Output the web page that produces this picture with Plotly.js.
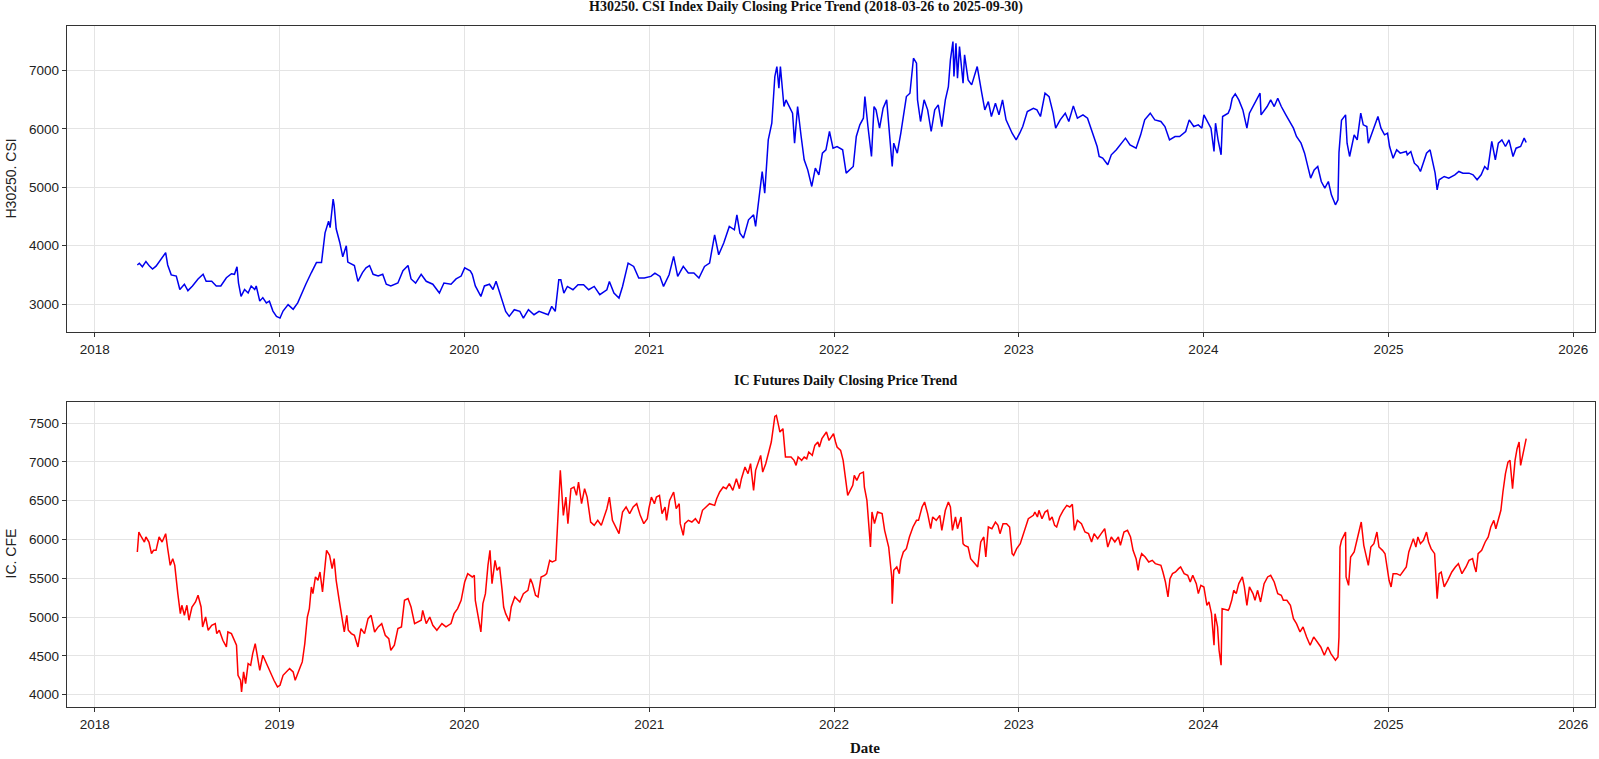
<!DOCTYPE html>
<html>
<head>
<meta charset="utf-8">
<script src="https://cdn.plot.ly/plotly-3.0.1.min.js"></script>
<style>
  html, body { margin: 0; padding: 0; background: #ffffff; }
  #chart { width: 1599px; height: 759px; }
</style>
</head>
<body>
<div id="chart"></div>
<script>
// H30250.CSI index vs IC futures, daily closes

const csiDates = [
  '2018-03-26','2018-03-30','2018-04-05','2018-04-12','2018-04-19','2018-04-25','2018-05-02','2018-05-09',
  '2018-05-15','2018-05-21','2018-05-25','2018-06-01','2018-06-11','2018-06-18','2018-06-27','2018-07-04',
  '2018-07-13','2018-07-24','2018-08-03','2018-08-09','2018-08-20','2018-08-29','2018-09-07','2018-09-18',
  '2018-09-28','2018-10-04','2018-10-09','2018-10-12','2018-10-17','2018-10-24','2018-10-31','2018-11-06',
  '2018-11-13','2018-11-16','2018-11-23','2018-11-29','2018-12-06','2018-12-12','2018-12-19','2018-12-26',
  '2019-01-02','2019-01-08','2019-01-18','2019-01-28','2019-02-06','2019-02-13','2019-02-22','2019-03-05',
  '2019-03-15','2019-03-25','2019-04-01','2019-04-08','2019-04-11','2019-04-17','2019-04-19','2019-04-23',
  '2019-04-30','2019-05-06','2019-05-13','2019-05-16','2019-05-23','2019-05-29','2019-06-05','2019-06-14',
  '2019-06-21','2019-06-28','2019-07-05','2019-07-15','2019-07-24','2019-07-31','2019-08-09','2019-08-23',
  '2019-09-02','2019-09-12','2019-09-18','2019-09-27','2019-10-08','2019-10-18','2019-10-31','2019-11-13',
  '2019-11-22','2019-12-06','2019-12-16','2019-12-26','2020-01-02','2020-01-13','2020-01-17','2020-01-23',
  '2020-02-03','2020-02-10','2020-02-20','2020-02-27','2020-03-04','2020-03-09','2020-03-16','2020-03-23',
  '2020-03-30','2020-04-09','2020-04-20','2020-04-27','2020-05-07','2020-05-18','2020-05-28','2020-06-08',
  '2020-06-15','2020-06-22','2020-06-29','2020-07-06','2020-07-10','2020-07-16','2020-07-23','2020-08-03',
  '2020-08-13','2020-08-24','2020-09-03','2020-09-14','2020-09-25','2020-10-09','2020-10-14','2020-10-23',
  '2020-11-02','2020-11-09','2020-11-20','2020-12-01','2020-12-11','2020-12-22','2021-01-04','2021-01-12',
  '2021-01-22','2021-01-29','2021-02-09','2021-02-18','2021-02-26','2021-03-09','2021-03-19','2021-03-30',
  '2021-04-09','2021-04-20','2021-04-30','2021-05-10','2021-05-18','2021-05-28','2021-06-08','2021-06-18',
  '2021-06-23','2021-06-29','2021-07-06','2021-07-16','2021-07-26','2021-07-30','2021-08-06','2021-08-12',
  '2021-08-17','2021-08-24','2021-08-31','2021-09-06','2021-09-10','2021-09-14','2021-09-17','2021-09-24',
  '2021-09-28','2021-10-11','2021-10-15','2021-10-21','2021-10-28','2021-11-03','2021-11-10','2021-11-18',
  '2021-11-25','2021-12-02','2021-12-09','2021-12-16','2021-12-23','2021-12-30','2022-01-07','2022-01-18',
  '2022-01-25','2022-02-08','2022-02-14','2022-02-21','2022-02-28','2022-03-03','2022-03-09','2022-03-16',
  '2022-03-21','2022-03-25','2022-04-01','2022-04-08','2022-04-15','2022-04-19','2022-04-26','2022-04-29',
  '2022-05-06','2022-05-13','2022-05-24','2022-05-31','2022-06-07','2022-06-13','2022-06-15','2022-06-21',
  '2022-06-28','2022-07-05','2022-07-12','2022-07-19','2022-07-26','2022-08-02','2022-08-09','2022-08-15',
  '2022-08-19','2022-08-24','2022-08-26','2022-08-30','2022-09-02','2022-09-06','2022-09-13','2022-09-16',
  '2022-09-23','2022-09-30','2022-10-11','2022-10-20','2022-10-26','2022-11-02','2022-11-08','2022-11-16',
  '2022-11-23','2022-11-30','2022-12-07','2022-12-19','2022-12-27','2023-01-03','2023-01-09','2023-01-18',
  '2023-01-30','2023-02-06','2023-02-13','2023-02-22','2023-03-02','2023-03-10','2023-03-15','2023-03-24',
  '2023-04-03','2023-04-10','2023-04-19','2023-04-27','2023-05-08','2023-05-17','2023-05-24','2023-05-31',
  '2023-06-05','2023-06-09','2023-06-16','2023-06-26','2023-07-03','2023-07-13','2023-07-24','2023-07-31',
  '2023-08-09','2023-08-21','2023-08-30','2023-09-07','2023-09-18','2023-09-27','2023-10-09','2023-10-17',
  '2023-10-26','2023-11-06','2023-11-15','2023-11-27','2023-12-04','2023-12-13','2023-12-22','2023-12-29',
  '2024-01-02','2024-01-09','2024-01-16','2024-01-22','2024-01-25','2024-01-30','2024-02-05','2024-02-08',
  '2024-02-19','2024-02-23','2024-02-27','2024-03-04','2024-03-11','2024-03-19','2024-03-27','2024-04-01',
  '2024-04-08','2024-04-15','2024-04-22','2024-04-24','2024-05-06','2024-05-13','2024-05-20','2024-05-27',
  '2024-06-03','2024-06-12','2024-06-20','2024-06-27','2024-07-03','2024-07-12','2024-07-19','2024-07-24',
  '2024-07-31','2024-08-07','2024-08-14','2024-08-21','2024-08-28','2024-09-04','2024-09-10','2024-09-18',
  '2024-09-23','2024-09-25','2024-09-30','2024-10-08','2024-10-11','2024-10-16','2024-10-21','2024-10-25',
  '2024-10-31','2024-11-07','2024-11-12','2024-11-19','2024-11-22','2024-11-29','2024-12-06','2024-12-11',
  '2024-12-17','2024-12-24','2024-12-30','2025-01-03','2025-01-10','2025-01-17','2025-01-24','2025-02-05',
  '2025-02-07','2025-02-14','2025-02-21','2025-02-28','2025-03-05','2025-03-10','2025-03-17','2025-03-24',
  '2025-03-28','2025-04-03','2025-04-07','2025-04-11','2025-04-21','2025-04-30','2025-05-12','2025-05-20',
  '2025-05-28','2025-06-09','2025-06-17','2025-06-25','2025-07-03','2025-07-10','2025-07-16','2025-07-24',
  '2025-07-31','2025-08-06','2025-08-13','2025-08-20','2025-08-27','2025-09-04','2025-09-10','2025-09-19',
  '2025-09-26','2025-09-30'
];
const csiClose = [
  3670,3700,3640,3730,3650,3600,3650,3730,
  3800,3880,3670,3500,3480,3250,3340,3230,
  3310,3430,3510,3390,3390,3310,3310,3450,
  3520,3510,3640,3360,3130,3250,3190,3310,
  3250,3310,3050,3110,3020,3050,2880,2790,
  2760,2880,2990,2910,3020,3170,3340,3540,
  3710,3710,4220,4420,4310,4800,4690,4290,
  4060,3810,4000,3720,3690,3660,3390,3540,
  3620,3660,3510,3480,3510,3340,3310,3360,
  3570,3660,3430,3360,3510,3390,3340,3190,
  3360,3340,3430,3480,3620,3570,3510,3310,
  3130,3310,3340,3250,3390,3250,3046,2874,
  2789,2903,2874,2760,2903,2817,2874,2846,
  2817,2960,2874,3417,3417,3188,3302,3245,
  3331,3331,3245,3302,3160,3245,3388,3188,
  3103,3302,3702,3645,3445,3445,3474,3531,
  3474,3302,3502,3816,3474,3645,3531,3531,
  3445,3645,3702,4187,3845,4045,4330,4273,
  4530,4216,4130,4444,4530,4330,4844,5272,
  4901,5814,6099,6899,7070,6699,7070,6385,
  6499,6270,5757,6385,5871,5472,5300,5015,
  5329,5215,5586,5643,5957,5671,5700,5643,
  5243,5357,5871,6071,6185,6556,6042,5529,
  6385,6328,6014,6356,6499,6042,5357,5757,
  5586,5928,6556,6613,7213,7127,6499,6128,
  6499,6328,5957,6328,6413,6042,6499,6727,
  7184,7498,6899,7470,6870,7413,6784,7270,
  6842,6756,7070,6613,6328,6470,6214,6442,
  6242,6499,6156,5928,5814,5928,6042,6299,
  6356,6328,6214,6613,6556,6271,6014,6156,
  6271,6128,6396,6185,6242,6185,6014,5814,
  5700,5529,5500,5386,5557,5643,5757,5843,
  5728,5671,5900,6156,6271,6156,6128,6042,
  5814,5871,5871,5957,6156,6042,6071,6014,
  6242,6128,6014,5614,6099,5814,5557,6214,
  6271,6356,6527,6602,6499,6328,6014,6271,
  6385,6499,6613,6242,6385,6499,6385,6527,
  6385,6242,6128,6014,5871,5757,5586,5414,
  5158,5300,5357,5100,4986,5100,4872,4701,
  4787,5600,6150,6242,5757,5529,5757,5900,
  5814,6271,6071,6042,5757,5928,6099,6214,
  6014,5900,5928,5700,5500,5643,5586,5614,
  5557,5614,5414,5357,5272,5414,5586,5643,
  5472,5243,4958,5129,5186,5158,5215,5272,
  5243,5243,5215,5129,5215,5357,5300,5786,
  5472,5757,5814,5700,5814,5529,5671,5700,
  5843,5768
];

const icDates = [
  '2018-03-26','2018-03-27','2018-03-29','2018-04-03','2018-04-09','2018-04-12','2018-04-18','2018-04-23',
  '2018-04-27','2018-05-02','2018-05-08','2018-05-14','2018-05-17','2018-05-21','2018-05-25','2018-05-30',
  '2018-06-04','2018-06-08','2018-06-14','2018-06-19','2018-06-22','2018-06-27','2018-07-02','2018-07-06',
  '2018-07-12','2018-07-19','2018-07-24','2018-07-30','2018-08-02','2018-08-08','2018-08-13','2018-08-20',
  '2018-08-27','2018-08-30','2018-09-04','2018-09-11','2018-09-18','2018-09-21','2018-09-28','2018-10-08',
  '2018-10-11','2018-10-16','2018-10-18','2018-10-22','2018-10-26','2018-10-31','2018-11-05','2018-11-09',
  '2018-11-14','2018-11-19','2018-11-23','2018-11-29','2018-12-05','2018-12-11','2018-12-17','2018-12-21',
  '2018-12-28','2019-01-02','2019-01-08','2019-01-14','2019-01-21','2019-01-28','2019-02-01','2019-02-11',
  '2019-02-15','2019-02-20','2019-02-25','2019-03-01','2019-03-05','2019-03-08','2019-03-13','2019-03-18',
  '2019-03-22','2019-03-27','2019-04-01','2019-04-04','2019-04-10','2019-04-15','2019-04-19','2019-04-23',
  '2019-04-29','2019-05-06','2019-05-09','2019-05-14','2019-05-17','2019-05-23','2019-05-29','2019-06-05',
  '2019-06-11','2019-06-18','2019-06-25','2019-07-01','2019-07-08','2019-07-15','2019-07-22','2019-07-29',
  '2019-08-05','2019-08-09','2019-08-16','2019-08-23','2019-08-30','2019-09-05','2019-09-12','2019-09-18',
  '2019-09-25','2019-10-08','2019-10-11','2019-10-18','2019-10-25','2019-10-31','2019-11-08','2019-11-18',
  '2019-11-26','2019-12-06','2019-12-12','2019-12-19','2019-12-26','2020-01-02','2020-01-08','2020-01-17',
  '2020-01-21','2020-01-23','2020-02-03','2020-02-07','2020-02-12','2020-02-17','2020-02-21','2020-02-25',
  '2020-03-02','2020-03-06','2020-03-11','2020-03-16','2020-03-19','2020-03-23','2020-03-30','2020-04-03',
  '2020-04-10','2020-04-20','2020-04-27','2020-05-06','2020-05-11','2020-05-15','2020-05-21','2020-05-26',
  '2020-06-01','2020-06-08','2020-06-12','2020-06-18','2020-06-23','2020-06-30','2020-07-06','2020-07-09',
  '2020-07-15','2020-07-20','2020-07-24','2020-07-30','2020-08-05','2020-08-10','2020-08-14','2020-08-20',
  '2020-08-26','2020-08-31','2020-09-07','2020-09-14','2020-09-21','2020-09-28','2020-10-09','2020-10-14',
  '2020-10-20','2020-10-26','2020-11-02','2020-11-09','2020-11-16','2020-11-23','2020-11-30','2020-12-07',
  '2020-12-14','2020-12-21','2020-12-28','2020-12-31','2021-01-05','2021-01-11','2021-01-15','2021-01-21',
  '2021-01-26','2021-02-01','2021-02-04','2021-02-10','2021-02-18','2021-02-23','2021-03-01','2021-03-03',
  '2021-03-09','2021-03-12','2021-03-19','2021-03-26','2021-04-02','2021-04-09','2021-04-16','2021-04-23',
  '2021-04-30','2021-05-10','2021-05-14','2021-05-20','2021-05-27','2021-06-02','2021-06-08','2021-06-15',
  '2021-06-22','2021-06-28','2021-07-02','2021-07-09','2021-07-15','2021-07-20','2021-07-26','2021-07-30',
  '2021-08-04','2021-08-09','2021-08-13','2021-08-19','2021-08-25','2021-08-30','2021-09-06','2021-09-09',
  '2021-09-14','2021-09-16','2021-09-22','2021-09-27','2021-10-08','2021-10-14','2021-10-18','2021-10-22',
  '2021-10-29','2021-11-03','2021-11-08','2021-11-12','2021-11-19','2021-11-24','2021-11-30','2021-12-03',
  '2021-12-08','2021-12-13','2021-12-17','2021-12-22','2021-12-28','2021-12-31','2022-01-04','2022-01-07',
  '2022-01-14','2022-01-19','2022-01-25','2022-01-28','2022-02-07','2022-02-10','2022-02-15','2022-02-21',
  '2022-02-28','2022-03-02','2022-03-07','2022-03-09','2022-03-14','2022-03-17','2022-03-22','2022-03-28',
  '2022-04-06','2022-04-11','2022-04-14','2022-04-19','2022-04-25','2022-04-26','2022-04-29','2022-05-05',
  '2022-05-10','2022-05-13','2022-05-18','2022-05-24','2022-05-30','2022-06-06','2022-06-13','2022-06-17',
  '2022-06-24','2022-06-29','2022-07-05','2022-07-11','2022-07-15','2022-07-22','2022-07-29','2022-08-02',
  '2022-08-09','2022-08-15','2022-08-19','2022-08-23','2022-08-29','2022-09-02','2022-09-09','2022-09-13',
  '2022-09-16','2022-09-23','2022-09-28','2022-10-10','2022-10-12','2022-10-18','2022-10-24','2022-10-28',
  '2022-11-02','2022-11-09','2022-11-16','2022-11-21','2022-11-25','2022-12-01','2022-12-08','2022-12-14',
  '2022-12-19','2022-12-22','2022-12-28','2023-01-04','2023-01-09','2023-01-16','2023-01-20','2023-01-30',
  '2023-02-02','2023-02-07','2023-02-10','2023-02-16','2023-02-22','2023-02-27','2023-03-03','2023-03-08',
  '2023-03-13','2023-03-17','2023-03-23','2023-03-30','2023-04-06','2023-04-12','2023-04-17','2023-04-21',
  '2023-04-27','2023-05-05','2023-05-12','2023-05-19','2023-05-25','2023-05-30','2023-06-06','2023-06-13',
  '2023-06-20','2023-06-26','2023-07-03','2023-07-10','2023-07-17','2023-07-21','2023-07-28','2023-08-04',
  '2023-08-10','2023-08-15','2023-08-21','2023-08-25','2023-08-28','2023-09-01','2023-09-08','2023-09-15',
  '2023-09-22','2023-09-28','2023-10-09','2023-10-13','2023-10-18','2023-10-23','2023-10-27','2023-11-01',
  '2023-11-07','2023-11-13','2023-11-17','2023-11-24','2023-12-01','2023-12-06','2023-12-11','2023-12-18',
  '2023-12-22','2023-12-27','2024-01-02','2024-01-08','2024-01-12','2024-01-17','2024-01-22','2024-01-24',
  '2024-01-29','2024-02-01','2024-02-05','2024-02-07','2024-02-19','2024-02-21','2024-02-26','2024-03-01',
  '2024-03-06','2024-03-11','2024-03-18','2024-03-22','2024-03-27','2024-04-01','2024-04-08','2024-04-12',
  '2024-04-17','2024-04-23','2024-04-30','2024-05-07','2024-05-13','2024-05-20','2024-05-27','2024-06-03',
  '2024-06-07','2024-06-14','2024-06-21','2024-06-27','2024-07-03','2024-07-10','2024-07-16','2024-07-23',
  '2024-07-30','2024-08-06','2024-08-13','2024-08-20','2024-08-27','2024-09-03','2024-09-09','2024-09-18',
  '2024-09-23','2024-09-25','2024-09-27','2024-09-30','2024-10-08','2024-10-09','2024-10-14','2024-10-18',
  '2024-10-25','2024-11-04','2024-11-08','2024-11-13','2024-11-19','2024-11-22','2024-11-27','2024-12-03',
  '2024-12-09','2024-12-13','2024-12-20','2024-12-25','2025-01-02','2025-01-06','2025-01-10','2025-01-17',
  '2025-01-24','2025-02-05','2025-02-10','2025-02-14','2025-02-19','2025-02-24','2025-02-28','2025-03-05',
  '2025-03-11','2025-03-17','2025-03-21','2025-03-26','2025-04-02','2025-04-07','2025-04-11','2025-04-15',
  '2025-04-21','2025-04-28','2025-05-06','2025-05-13','2025-05-19','2025-05-26','2025-06-03','2025-06-09',
  '2025-06-16','2025-06-20','2025-06-23','2025-06-27','2025-07-04','2025-07-11','2025-07-17','2025-07-22',
  '2025-07-28','2025-08-01','2025-08-06','2025-08-11','2025-08-15','2025-08-20','2025-08-25','2025-08-29',
  '2025-09-03','2025-09-08','2025-09-12','2025-09-16','2025-09-19','2025-09-25','2025-09-30'
];
const icClose = [
  5838,5988,6095,6031,5966,6031,5966,5816,
  5859,5859,6031,5966,6010,6074,5881,5666,
  5752,5666,5301,5043,5151,5022,5151,4958,
  5129,5194,5280,5129,4872,5000,4829,4893,
  4915,4786,4829,4700,4614,4807,4786,4636,
  4249,4185,4034,4292,4142,4399,4378,4528,
  4657,4485,4313,4507,4421,4313,4249,4185,
  4099,4120,4249,4292,4335,4292,4185,4356,
  4421,4657,5000,5108,5387,5301,5516,5473,
  5580,5323,5730,5859,5795,5623,5752,5473,
  5215,4915,4807,5022,4829,4786,4764,4614,
  4850,4786,4979,5022,4807,4872,4915,4764,
  4721,4571,4636,4850,4872,5215,5237,5129,
  4915,4958,5086,4915,5000,4893,4829,4915,
  4872,4915,5043,5108,5215,5451,5559,5516,
  5537,5215,4807,5172,5301,5666,5859,5430,
  5730,5602,5645,5344,5129,5043,4945,5129,
  5258,5194,5301,5344,5494,5430,5280,5258,
  5516,5537,5559,5730,5709,5730,6546,6890,
  6310,6546,6203,6654,6675,6568,6740,6460,
  6654,6546,6224,6181,6246,6181,6396,6546,
  6246,6160,6074,6353,6418,6332,6418,6460,
  6310,6203,6267,6396,6546,6460,6546,6568,
  6332,6418,6246,6503,6611,6396,6460,6203,
  6053,6203,6246,6224,6267,6203,6375,6418,
  6460,6439,6525,6611,6675,6654,6718,6632,
  6783,6654,6783,6933,6847,6976,6632,6890,
  6976,7083,6868,6976,7126,7255,7585,7598,
  7448,7384,7427,7062,7062,7019,6954,7062,
  7019,7062,7040,7126,7083,7212,7255,7190,
  7298,7341,7384,7276,7341,7362,7255,7190,
  7148,7019,6718,6568,6697,6826,6761,6847,
  6868,6675,6503,6289,5902,6353,6203,6353,
  6332,6117,6031,5902,5516,5172,5602,5645,
  5559,5730,5838,5881,6031,6160,6246,6246,
  6418,6482,6332,6138,6289,6246,6310,6117,
  6375,6482,6418,6117,6289,6138,6289,5945,
  5924,5902,5752,5666,5645,5967,6031,5773,
  6160,6138,6224,6181,6074,6203,6203,6160,
  5816,5795,5881,5945,6053,6181,6267,6310,
  6353,6289,6375,6267,6353,6375,6246,6289,
  6181,6160,6289,6375,6439,6418,6452,6117,
  6246,6203,6095,6074,5967,6074,6010,6074,
  6138,5902,6031,5967,6031,5924,6095,6117,
  6031,5859,5752,5602,5730,5816,5773,5709,
  5730,5688,5666,5580,5451,5258,5494,5559,
  5580,5623,5645,5559,5537,5451,5537,5430,
  5301,5408,5387,5151,5194,5043,4636,5043,
  4872,4571,4378,5108,5086,5108,5215,5344,
  5301,5430,5516,5387,5151,5387,5301,5215,
  5344,5194,5430,5516,5537,5451,5301,5280,
  5215,5215,5151,4979,4915,4807,4872,4743,
  4636,4743,4678,4614,4507,4614,4528,4442,
  4485,4743,5902,5988,6095,5516,5408,5773,
  5838,6117,6224,5924,5773,5666,5902,5945,
  6095,5902,5859,5816,5473,5387,5559,5559,
  5537,5645,5838,5924,6010,5902,6031,5945,
  5988,6095,5967,5881,5816,5237,5559,5580,
  5387,5473,5580,5645,5688,5559,5645,5730,
  5752,5645,5580,5816,5859,5967,6031,6160,
  6246,6138,6246,6375,6611,6847,6997,7019,
  6654,7019,7169,7255,6954,7169,7298
];

// axis ticks
const yearTickVals = ['2018-01-01','2019-01-01','2020-01-01','2021-01-01','2022-01-01',
                      '2023-01-01','2024-01-01','2025-01-01','2026-01-01'];
const yearTickText = ['2018','2019','2020','2021','2022','2023','2024','2025','2026'];
const csiTicks = [3000, 4000, 5000, 6000, 7000];
const icTicks = [4000, 4500, 5000, 5500, 6000, 6500, 7000, 7500];

// plot box in pixels (figure is 1599 x 759)
const M = { l: 67, r: 4, t: 26, b: 52 };
const W = 1599, H = 759;
const plotW = W - M.l - M.r;
const plotH = H - M.t - M.b;
const paperX = px => (px - M.l) / plotW;
const paperY = py => (H - M.b - py) / plotH;

const tickFont = { family: 'Liberation Sans, Arial, sans-serif', size: 13.5, color: '#222222' };
const titleFont = { family: 'Liberation Serif, Times New Roman, serif', size: 14, color: '#111111', weight: 'bold' };

function xAxisBase(anchor) {
    return {
        type: 'date',
        anchor: anchor,
        range: ['2017-11-07', '2026-02-13'],
        tickmode: 'array',
        tickvals: yearTickVals,
        ticktext: yearTickText,
        showgrid: true,
        gridcolor: '#e4e4e4',
        gridwidth: 1,
        zeroline: false,
        showline: true,
        mirror: true,
        linecolor: '#333333',
        linewidth: 1.3,
        ticks: 'outside',
        ticklen: 4,
        tickwidth: 1,
        tickcolor: '#333333',
        tickfont: tickFont
    };
}

function yAxisBase(anchor, domain, range, ticks) {
    return {
        anchor: anchor,
        domain: domain,
        range: range,
        tickmode: 'array',
        tickvals: ticks,
        ticktext: ticks.map(String),
        showgrid: true,
        gridcolor: '#e4e4e4',
        gridwidth: 1,
        zeroline: false,
        showline: true,
        mirror: true,
        linecolor: '#333333',
        linewidth: 1.3,
        ticks: 'outside',
        ticklen: 4,
        tickwidth: 1,
        tickcolor: '#333333',
        tickfont: tickFont
    };
}

const traces = [
    {
        x: csiDates,
        y: csiClose,
        type: 'scatter',
        mode: 'lines',
        name: 'H30250.CSI',
        xaxis: 'x',
        yaxis: 'y',
        line: { color: '#0000ee', width: 1.5 }
    },
    {
        x: icDates,
        y: icClose,
        type: 'scatter',
        mode: 'lines',
        name: 'IC.CFE',
        xaxis: 'x2',
        yaxis: 'y2',
        line: { color: '#ff0000', width: 1.5 }
    }
];

const layout = {
    width: W,
    height: H,
    margin: M,
    paper_bgcolor: '#ffffff',
    plot_bgcolor: '#ffffff',
    showlegend: false,
    xaxis: xAxisBase('y'),
    yaxis: yAxisBase('x', [paperY(332), 1], [2521, 7765], csiTicks),
    xaxis2: xAxisBase('y2'),
    yaxis2: yAxisBase('x2', [0, paperY(402)], [3840, 7771], icTicks),
    annotations: [
        {
            text: 'H30250. CSI Index Daily Closing Price Trend (2018-03-26 to 2025-09-30)',
            xref: 'paper', yref: 'paper', x: paperX(806), y: paperY(7),
            xanchor: 'center', yanchor: 'middle', showarrow: false, font: titleFont
        },
        {
            text: 'IC Futures Daily Closing Price Trend',
            xref: 'paper', yref: 'paper', x: paperX(845.5), y: paperY(380.5),
            xanchor: 'center', yanchor: 'middle', showarrow: false, font: titleFont
        },
        {
            text: 'Date',
            xref: 'paper', yref: 'paper', x: paperX(865), y: paperY(757),
            xanchor: 'center', yanchor: 'bottom', showarrow: false, borderpad: 0,
            font: { ...titleFont, size: 15 }
        },
        {
            text: 'H30250. CSI',
            xref: 'paper', yref: 'paper', x: paperX(10.5), y: paperY(179),
            xanchor: 'center', yanchor: 'middle', textangle: -90, showarrow: false,
            font: { ...tickFont, size: 14 }
        },
        {
            text: 'IC. CFE',
            xref: 'paper', yref: 'paper', x: paperX(10.5), y: paperY(554),
            xanchor: 'center', yanchor: 'middle', textangle: -90, showarrow: false,
            font: { ...tickFont, size: 14 }
        }
    ]
};

Plotly.newPlot('chart', traces, layout, { displayModeBar: false, staticPlot: true });
</script>
</body>
</html>
